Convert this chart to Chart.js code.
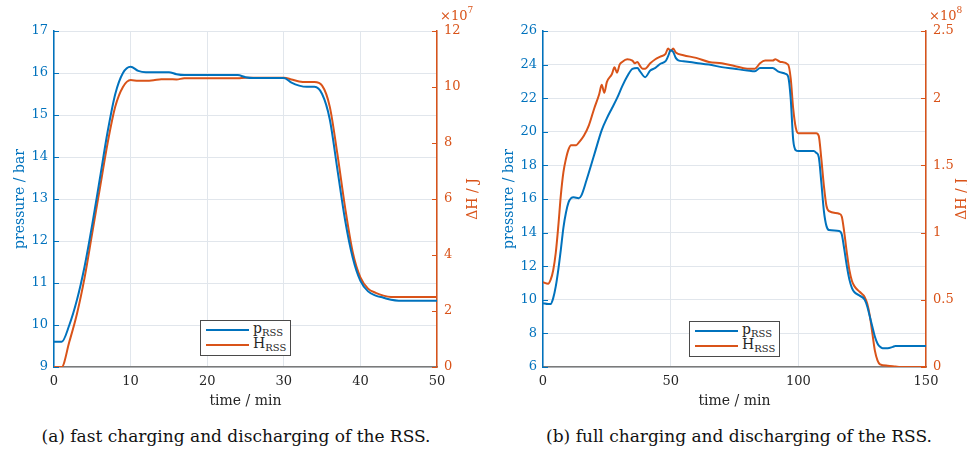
<!DOCTYPE html>
<html>
<head>
<meta charset="utf-8">
<script src="https://cdn.jsdelivr.net/npm/chart.js@4/dist/chart.umd.min.js"></script>
<style>
  html, body { margin: 0; padding: 0; background: #ffffff; }
  #lienzo { position: relative; width: 967px; height: 449px; overflow: hidden; font-family: 'DejaVu Serif', serif; }
  canvas { position: absolute; top: 0; }
  .leyenda { position: absolute; background: #fff; border: 1px solid #4a4a4a; width: 89px; height: 34px; font-size: 14px; color: #262626; }
  .fila { position: absolute; left: 5px; height: 16px; line-height: 16px; }
  .fila span.linea { position: absolute; left: 0; top: 7px; width: 43px; height: 2px; }
  .fila span.txt { position: absolute; left: 47px; top: -2px; white-space: nowrap; }
  .fila sub { font-size: 10px; vertical-align: -3px; }
  .pie { position: absolute; top: 426px; font-size: 17px; color: #111; white-space: nowrap; transform: translateX(-50%); }
</style>
</head>
<body>
<div id="lienzo">
  <canvas id="grafico-a" width="483" height="415" style="left:0"></canvas>
  <canvas id="grafico-b" width="484" height="415" style="left:483px"></canvas>

  <div class="leyenda" style="left:200px; top:320px;">
    <div class="fila" style="top:1px"><span class="linea" style="background:#0072BD"></span><span class="txt">p<sub>RSS</sub></span></div>
    <div class="fila" style="top:16px"><span class="linea" style="background:#D95319"></span><span class="txt">H<sub>RSS</sub></span></div>
  </div>
  <div class="leyenda" style="left:689px; top:321px;">
    <div class="fila" style="top:1px"><span class="linea" style="background:#0072BD"></span><span class="txt">p<sub>RSS</sub></span></div>
    <div class="fila" style="top:16px"><span class="linea" style="background:#D95319"></span><span class="txt">H<sub>RSS</sub></span></div>
  </div>

  <div class="pie" style="left:236px">(a) fast charging and discharging of the RSS.</div>
  <div class="pie" style="left:739px">(b) full charging and discharging of the RSS.</div>
</div>

<script>
// --- Datos (a): carga y descarga rápida ---
const tiempoA = [0, 1, 2, 3, 4, 5, 6, 7, 8, 9, 10, 11, 12, 13, 14, 15, 16, 17, 18, 19, 20, 21, 22, 23, 24, 25,
  26, 27, 28, 29, 30, 31, 32, 33, 34, 35, 36, 37, 38, 39, 40, 41, 42, 43, 44, 45, 46, 47, 48, 49, 50];
const presionA = [9.6, 9.6, 10.0, 10.6, 11.4, 12.4, 13.5, 14.6, 15.5, 16.0, 16.15, 16.05, 16.02, 16.02, 16.02, 16.02,
  15.97, 15.95, 15.95, 15.95, 15.95, 15.95, 15.95, 15.95, 15.95, 15.9, 15.88, 15.88, 15.88, 15.88, 15.88,
  15.77, 15.7, 15.67, 15.67, 15.5, 14.9, 13.7, 12.5, 11.6, 11.05, 10.8, 10.7, 10.65, 10.6, 10.58,
  10.58, 10.58, 10.58, 10.58, 10.58];
// entalpía en unidades de 1e7 J
const entalpiaA = [0, 0, 0.9, 1.9, 3.2, 4.8, 6.4, 8.0, 9.3, 10.0, 10.25, 10.22, 10.22, 10.24, 10.28, 10.28,
  10.27, 10.31, 10.31, 10.31, 10.31, 10.31, 10.31, 10.31, 10.31, 10.33, 10.33, 10.33, 10.33, 10.33, 10.33,
  10.27, 10.2, 10.18, 10.18, 10.05, 9.3, 7.6, 5.7, 4.1, 3.2, 2.8, 2.65, 2.55, 2.5, 2.5,
  2.5, 2.5, 2.5, 2.5, 2.5];

// --- Datos (b): carga y descarga completa ---
const tiempoPresionB = [0, 2, 3, 4, 5, 6, 7, 8, 9, 10, 11, 12, 14, 15, 17, 20, 23, 25, 27, 29, 31, 33, 35, 37, 38,
  40, 42, 44, 46, 48, 49, 50, 51, 52, 53, 55, 60, 65, 70, 75, 80, 83, 85, 90, 92, 95, 96, 97, 98, 99, 100,
  106, 107, 108, 109, 110, 111, 112, 116, 117, 118, 119, 120, 121, 122, 124, 126, 127, 128, 129, 130, 131,
  132, 133, 135, 137, 138, 150];
const presionB = [9.8, 9.75, 9.75, 10.1, 10.8, 11.8, 13.0, 14.3, 15.2, 15.8, 16.05, 16.1, 16.05, 16.2, 17.1, 18.6,
  20.1, 20.8, 21.4, 22.0, 22.7, 23.3, 23.75, 23.8, 23.6, 23.25, 23.65, 23.8, 24.05, 24.2, 24.5, 24.85, 24.75,
  24.4, 24.25, 24.2, 24.1, 24.0, 23.85, 23.75, 23.65, 23.6, 23.8, 23.8, 23.6, 23.45, 23.3, 22.0, 19.5, 18.9,
  18.85, 18.85, 18.75, 18.5, 17.0, 15.3, 14.4, 14.15, 14.1, 13.9, 13.0, 12.0, 11.2, 10.7, 10.45, 10.25, 10.0,
  9.6, 9.0, 8.4, 7.8, 7.4, 7.2, 7.12, 7.12, 7.2, 7.25, 7.25];
const tiempoEntalpiaB = [0, 2, 3, 4, 5, 6, 7, 8, 9, 10, 11, 13, 14, 16, 18, 20, 22, 23, 24, 25, 27, 28, 29, 30,
  31, 33, 35, 36, 37, 38, 39, 40, 42, 44, 46, 48, 49, 50, 51, 52, 55, 60, 65, 70, 75, 80, 83, 85, 87, 90, 91,
  93, 96, 97, 98, 99, 100, 107, 108, 109, 110, 111, 112, 116, 117, 118, 119, 120, 121, 122, 124, 126, 127,
  128, 129, 130, 131, 132, 135, 138, 140, 150];
// entalpía en unidades de 1e8 J
const entalpiaB = [0.63, 0.62, 0.65, 0.72, 0.85, 1.05, 1.28, 1.45, 1.55, 1.62, 1.65, 1.65, 1.67, 1.72, 1.8, 1.92,
  2.03, 2.1, 2.04, 2.12, 2.18, 2.23, 2.19, 2.25, 2.27, 2.29, 2.28, 2.26, 2.27, 2.24, 2.22, 2.22, 2.26, 2.29,
  2.31, 2.33, 2.37, 2.35, 2.37, 2.34, 2.32, 2.30, 2.27, 2.26, 2.24, 2.22, 2.22, 2.26, 2.28, 2.28, 2.29, 2.27,
  2.25, 2.15, 1.92, 1.78, 1.74, 1.74, 1.72, 1.55, 1.35, 1.2, 1.16, 1.14, 1.12, 1.0, 0.85, 0.72, 0.64, 0.6,
  0.56, 0.52, 0.47, 0.38, 0.25, 0.12, 0.05, 0.02, 0.01, 0.004, 0, 0];

const azul = '#0072BD';
const naranja = '#D95319';
const colorRejilla = '#e1e6ec';
const fuente = 'DejaVu Serif';

function aPuntos(xs, ys) {
  return xs.map((x, i) => ({ x: x, y: ys[i] }));
}

// etiquetas sin ceros de relleno (2 en vez de 2.0)
const etiquetaSimple = (v) => String(Math.round(v * 100) / 100);

// Marcas hacia dentro, título del eje derecho y exponente (estilo MATLAB)
const extrasMatlab = {
  id: 'extrasMatlab',
  afterDraw(chart, args, opts) {
    const ctx = chart.ctx;
    const area = chart.chartArea;
    const ejeIzq = chart.scales.y;
    const ejeDer = chart.scales.y1;
    ctx.save();
    ctx.lineWidth = 1;

    ctx.strokeStyle = azul;
    ejeIzq.ticks.forEach((t, i) => {
      const py = Math.round(ejeIzq.getPixelForTick(i)) + 0.5;
      ctx.beginPath(); ctx.moveTo(area.left, py); ctx.lineTo(area.left + 5, py); ctx.stroke();
    });
    ctx.strokeStyle = naranja;
    ejeDer.ticks.forEach((t, i) => {
      const py = Math.round(ejeDer.getPixelForTick(i)) + 0.5;
      ctx.beginPath(); ctx.moveTo(area.right, py); ctx.lineTo(area.right - 5, py); ctx.stroke();
    });

    ctx.fillStyle = naranja;
    ctx.font = '14px "' + fuente + '"';
    ctx.textAlign = 'center';
    ctx.textBaseline = 'middle';
    ctx.save();
    ctx.translate(area.right + 36, (area.top + area.bottom) / 2);
    ctx.rotate(-Math.PI / 2);
    ctx.fillText('\u0394H / J', 0, 0);
    ctx.restore();

    ctx.textAlign = 'left';
    ctx.textBaseline = 'alphabetic';
    ctx.font = '13px "' + fuente + '"';
    const base = '\u00d710';
    ctx.fillText(base, area.right + 3, 20);
    const w = ctx.measureText(base).width;
    ctx.font = '9px "' + fuente + '"';
    ctx.fillText(opts.exponente, area.right + 3 + w, 13);
    ctx.restore();
  }
};

function crearGrafico(idCanvas, cfg) {
  const el = document.getElementById(idCanvas);
  return new Chart(el, {
    type: 'line',
    data: {
      datasets: [
        { label: 'pRSS', data: cfg.presion, yAxisID: 'y', borderColor: azul, borderWidth: 2, pointRadius: 0,
          cubicInterpolationMode: 'monotone', fill: false },
        { label: 'HRSS', data: cfg.entalpia, yAxisID: 'y1', borderColor: naranja, borderWidth: 2, pointRadius: 0,
          cubicInterpolationMode: 'monotone', fill: false }
      ]
    },
    options: {
      responsive: false,
      animation: false,
      layout: { padding: { top: 31, left: 0, right: 0, bottom: 0 } },
      plugins: {
        legend: { display: false },
        tooltip: { enabled: false },
        extrasMatlab: { exponente: cfg.exponente }
      },
      scales: {
        x: {
          type: 'linear', position: 'bottom', min: 0, max: cfg.xMax,
          ticks: { stepSize: cfg.xPaso, color: '#262626', padding: 7, maxRotation: 0, font: { family: fuente, size: 13 } },
          grid: { color: colorRejilla, drawTicks: false },
          border: { color: '#7a7a7a', width: 1.5 },
          title: { display: true, text: 'time / min', color: '#262626', padding: { top: 0, bottom: 5 }, font: { family: fuente, size: 14 } },
          afterFit: (eje) => { eje.height = 48; }
        },
        y: {
          position: 'left', min: cfg.yMin, max: cfg.yMax,
          ticks: { stepSize: cfg.yPaso, color: azul, padding: 6, font: { family: fuente, size: 13 }, callback: etiquetaSimple },
          grid: { color: colorRejilla, drawTicks: false },
          border: { color: azul, width: 1.5 },
          title: { display: true, text: 'pressure / bar', color: azul, padding: { top: cfg.padTitulo, bottom: 0 }, font: { family: fuente, size: 14 } },
          afterFit: (eje) => { eje.width = cfg.anchoIzq; }
        },
        y1: {
          position: 'right', min: 0, max: cfg.y1Max,
          ticks: { stepSize: cfg.y1Paso, color: naranja, padding: 7, font: { family: fuente, size: 13 }, callback: etiquetaSimple },
          grid: { drawOnChartArea: false, drawTicks: false },
          border: { color: naranja, width: 1.5 },
          afterFit: (eje) => { eje.width = cfg.anchoDer; }
        }
      }
    },
    plugins: [extrasMatlab]
  });
}

crearGrafico('grafico-a', {
  presion: aPuntos(tiempoA, presionA),
  entalpia: aPuntos(tiempoA, entalpiaA),
  xMax: 50, xPaso: 10,
  yMin: 9, yMax: 17, yPaso: 1,
  y1Max: 12, y1Paso: 2,
  exponente: '7',
  anchoIzq: 54, anchoDer: 46, padTitulo: 12
});

crearGrafico('grafico-b', {
  presion: aPuntos(tiempoPresionB, presionB),
  entalpia: aPuntos(tiempoEntalpiaB, entalpiaB),
  xMax: 150, xPaso: 50,
  yMin: 6, yMax: 26, yPaso: 2,
  y1Max: 2.5, y1Paso: 0.5,
  exponente: '8',
  anchoIzq: 60, anchoDer: 41, padTitulo: 18
});
</script>
</body>
</html>
